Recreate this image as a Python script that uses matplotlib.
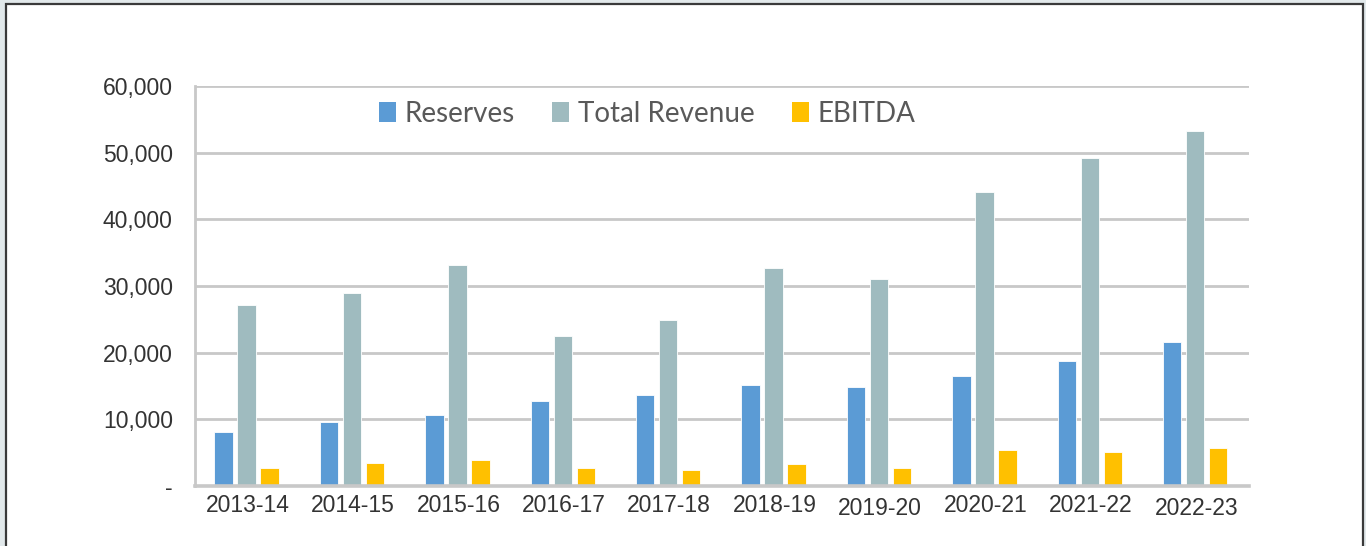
import matplotlib
matplotlib.use("Agg")
import matplotlib.pyplot as plt
import matplotlib.transforms as mtransforms
from matplotlib.patches import Patch, Rectangle
from matplotlib.ticker import FuncFormatter, MultipleLocator
import numpy as np

years = ["2013-14", "2014-15", "2015-16", "2016-17", "2017-18",
         "2018-19", "2019-20", "2020-21", "2021-22", "2022-23"]
reserves = [8100, 9600, 10600, 12800, 13650, 15200, 14900, 16450, 18800, 21600]
total_revenue = [27100, 28900, 33100, 22450, 24900, 32650, 31050, 44150, 49250, 53300]
ebitda = [2650, 3500, 3950, 2650, 2450, 3350, 2630, 5470, 5120, 5700]
series_names = ["Reserves", "Total Revenue", "EBITDA"]
colors = ["#5B9BD5", "#9FBBBF", "#FFC000"]

W, H, DPI = 1366, 546, 100
fig = plt.figure(figsize=(W / DPI, H / DPI), dpi=DPI)
fig.patch.set_facecolor("#E2E9EB")
# white panel with dark frame
fig.patches.append(Rectangle((6 / W, -0.05), (1363 - 6) / W, (542 / H) + 0.05,
                             transform=fig.transFigure, facecolor="white",
                             edgecolor="#3A3A3A", linewidth=1.6, zorder=-5))

ax = fig.add_axes([195 / W, 1 - 486 / H, (1249 - 195) / W, (486 - 86) / H])
ax.set_zorder(2)
ax.set_facecolor("none")

x = np.arange(len(years))
pitch = 0.218
bw = 0.175
for i, (vals, c) in enumerate(zip([reserves, total_revenue, ebitda], colors)):
    ax.bar(x + (i - 1) * pitch - 0.01, vals, width=bw, color=c, edgecolor="white",
           linewidth=0.6, zorder=3, label=series_names[i])

ax.set_xlim(-0.5, len(years) - 0.5)
ax.set_ylim(0, 60000)
ax.yaxis.set_major_locator(MultipleLocator(10000))
ax.yaxis.set_major_formatter(FuncFormatter(lambda v, p: "-" if v == 0 else f"{int(v):,}"))
ax.grid(axis="y", color="#C8C8C8", linewidth=2.0, zorder=1)
ax.set_axisbelow(True)

for s in ["top", "right"]:
    ax.spines[s].set_visible(False)
ax.spines["left"].set_color("#C8C8C8")
ax.spines["left"].set_linewidth(2.0)
ax.spines["bottom"].set_color("#C8C8C8")
ax.spines["bottom"].set_linewidth(2.6)
ax.spines["bottom"].set_zorder(4)

ax.set_xticks(x)
ax.set_xticklabels(years)
ax.tick_params(axis="both", length=0, labelsize=16.5, labelcolor="#333333")
ax.tick_params(axis="y", pad=16)
ax.tick_params(axis="x", pad=6)
for lab in ax.get_yticklabels() + ax.get_xticklabels():
    lab.set_fontfamily(["Liberation Sans", "DejaVu Sans"])

# slight downward offsets seen on a couple of labels
offsets = {6: -3, 9: -3}
for idx, lab in enumerate(ax.get_xticklabels()):
    if idx in offsets:
        lab.set_transform(lab.get_transform() +
                          mtransforms.ScaledTranslation(0, offsets[idx] / DPI, fig.dpi_scale_trans))

handles = [Patch(facecolor=c, edgecolor="none") for c in colors]
leg = fig.legend(handles, series_names, loc="center", ncol=3,
                 bbox_to_anchor=(647 / W, 1 - 114 / H), frameon=False,
                 prop={"family": ["Lato", "DejaVu Sans"], "size": 20},
                 handlelength=0.62, handleheight=0.72, handletextpad=0.3,
                 columnspacing=1.35, borderpad=0)
leg.set_zorder(5)
for t in leg.get_texts():
    t.set_color("#595959")

fig.savefig("out.png", dpi=DPI, facecolor=fig.get_facecolor())
